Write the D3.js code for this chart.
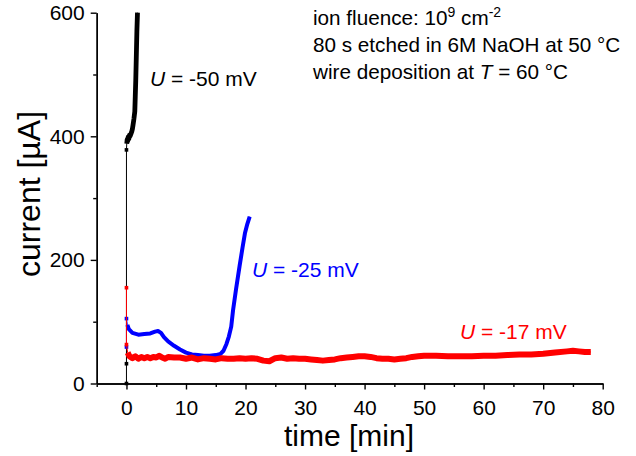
<!DOCTYPE html>
<html><head><meta charset="utf-8">
<script src="https://cdn.jsdelivr.net/npm/d3@7"></script>
<style>body{margin:0;background:#fff}svg{display:block}text{font-family:"Liberation Sans",Arial,sans-serif}</style>
</head><body>
<svg id="c" width="636" height="456"></svg>
<script>
// ---- data ----
const xMajorTicks = [0,10,20,30,40,50,60,70,80];
const xMinorTicks = [-5,5,15,25,35,45,55,65,75];
const yMajorTicks = [0,200,400,600];
const yMinorTicks = [100,300,500];
// U = -50 mV (time [min], current [µA])
const black = [[0,0],[0,32],[0,378],[0.05,388],[0.12,395],[0.2,392],[0.3,399],[0.4,396],[0.5,402],[0.6,400],[0.75,404],[0.9,408],[1.0,412],[1.1,418],[1.25,428],[1.4,440],[1.48,465],[1.56,490],[1.62,515],[1.68,540],[1.75,570],[1.85,600]];
// U = -25 mV
const blue = [[0,59],[0,105],[0.15,95],[0.4,88],[1,82],[2,79],[3,80],[4,81],[4.8,84],[5.3,85],[5.8,82],[6.3,75],[7,68],[8,61],[9,55],[10,50],[11,47],[12,46],[13,45],[14,45],[15,46],[15.8,48],[16.3,53],[16.8,64],[17.2,76],[17.6,92],[17.9,118],[18.4,152],[19.0,190],[19.5,220],[19.9,243],[20.3,258],[20.7,270]];
// U = -17 mV
const red = [[0,155],[0,63],[0.2,50],[0.5,44],[1,41],[1.5,44],[2,40],[2.5,43],[3,41],[3.5,43],[4,41],[4.5,43],[5,42],[5.5,45],[6,42],[6.5,40],[7,43],[8,42],[9,42],[10,40],[11,42],[12,39],[13,41],[14,40],[15,39],[16,41],[17,40],[18,40],[19,41],[20,40],[21,41],[22,40],[23,37],[24,36],[25,41],[26,42],[27,40],[28,41],[29,40],[30,40],[31,39],[32,38],[33,37],[34,38],[35,39],[36,41],[37,42],[38,43],[39,44],[40,44],[41,43],[42,41],[43,40],[44,40],[45,39],[46,40],[47,41],[48,43],[49,44],[50,45],[52,45],[54,44],[56,44],[58,44],[60,45],[62,45],[64,46],[66,47],[68,47],[70,48],[72,50],[74,52],[75,53],[76,52],[77,51],[78,51]];
const seriesColors = ["#000000","#0000ff","#ff0000"];
const seriesLabels = ["-50 mV","-25 mV","-17 mV"];

// ---- drawing ----
const svg = d3.select("#c");
const x = d3.scaleLinear().domain([-5,80]).range([96.7,602.7]);
const y = d3.scaleLinear().domain([0,600]).range([383.5,12.7]);

const line = d3.line().x(d=>x(d[0])).y(d=>y(d[1]));
const sets = [black, blue, red];
const widths = [4.8,4,6];
sets.forEach((s,i)=>{
  svg.append("path").attr("d",line(s)).attr("fill","none").attr("stroke",seriesColors[i]).attr("stroke-width",1);
  svg.append("path").attr("d",line(s.filter(d=>d[0]>0))).attr("fill","none")
     .attr("stroke",seriesColors[i]).attr("stroke-width",widths[i]).attr("stroke-linejoin","round");
  svg.selectAll(null).data(s.filter(d=>d[0]===0)).enter().append("rect")
     .attr("x",d=>x(d[0])-1.8).attr("y",d=>y(d[1])-1.8).attr("width",3.6).attr("height",3.6)
     .attr("fill",seriesColors[i]);
});

function styleAxis(g){
  g.selectAll("path,line").attr("stroke","#000").attr("stroke-width",1.4);
  g.selectAll("text").attr("font-size",21).attr("fill","#000").attr("font-family","Liberation Sans, Arial, sans-serif");
}
const gx = svg.append("g").attr("transform",`translate(0,${y(0)})`)
  .call(d3.axisBottom(x).tickValues(xMajorTicks).tickSize(6).tickSizeOuter(0).tickPadding(11));
styleAxis(gx);
const gxm = svg.append("g").attr("transform",`translate(0,${y(0)})`)
  .call(d3.axisBottom(x).tickValues(xMinorTicks).tickSize(3.5).tickSizeOuter(0).tickFormat(""));
styleAxis(gxm);
const gy = svg.append("g").attr("transform",`translate(${x(-5)},0)`)
  .call(d3.axisLeft(y).tickValues(yMajorTicks).tickSize(6).tickSizeOuter(0).tickPadding(6));
styleAxis(gy);
const gym = svg.append("g").attr("transform",`translate(${x(-5)},0)`)
  .call(d3.axisLeft(y).tickValues(yMinorTicks).tickSize(3.5).tickSizeOuter(0).tickFormat(""));
styleAxis(gym);

// axis titles
svg.append("text").attr("x",349).attr("y",446).attr("text-anchor","middle").attr("font-size",30).text("time [min]");
svg.append("text").attr("transform","translate(40,194) rotate(-90)").attr("text-anchor","middle").attr("font-size",32).text("current [µA]");

// series labels
const labelPos = [[150,86],[252,277],[460,339]];
labelPos.forEach((p,i)=>{
  const t = svg.append("text").attr("x",p[0]).attr("y",p[1]).attr("font-size",21).attr("fill",seriesColors[i]);
  t.append("tspan").attr("font-style","italic").text("U");
  t.append("tspan").text(" = " + seriesLabels[i]);
});

// annotation
const ann = svg.append("g").attr("font-size",20.7);
const a1 = ann.append("text").attr("x",313).attr("y",25);
a1.append("tspan").text("ion fluence: 10");
a1.append("tspan").attr("font-size",14).attr("dy",-8).text("9");
a1.append("tspan").attr("dy",8).text(" cm");
a1.append("tspan").attr("font-size",14).attr("dy",-8).text("-2");
ann.append("text").attr("x",313).attr("y",52).text("80 s etched in 6M NaOH at 50 °C");
const a3 = ann.append("text").attr("x",313).attr("y",79);
a3.append("tspan").text("wire deposition at ");
a3.append("tspan").attr("font-style","italic").text("T");
a3.append("tspan").text(" = 60 °C");
</script>
</body></html>
